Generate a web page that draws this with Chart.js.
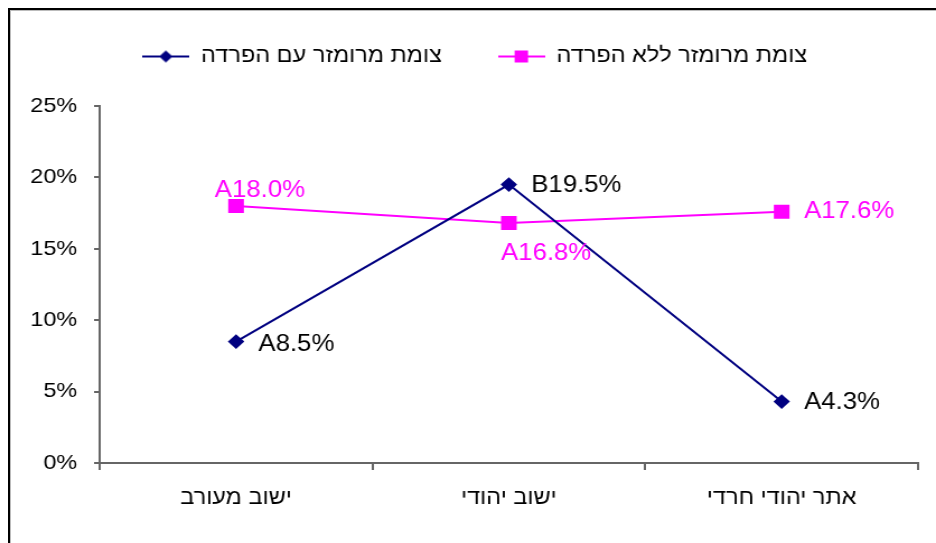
<!DOCTYPE html>
<html>
<head>
<meta charset="utf-8">
<script src="https://cdn.jsdelivr.net/npm/chart.js@4"></script>
<style>
  html, body { margin: 0; padding: 0; background: #fff; overflow: hidden; width: 936px; height: 543px; }
  #frame { position: absolute; left: 8px; top: 8px; width: 2000px; height: 2000px;
           border-top: 2px solid #000; border-left: 2px solid #000;
           box-shadow: inset 1px 1px 0 #bbb; z-index: 0; }
  #wrap { position: absolute; left: 0; top: 0; width: 836px; height: 543px;
          transform: scaleX(1.1196); transform-origin: 0 0; z-index: 1; }
</style>
</head>
<body>
<div id="frame"></div>
<div id="wrap"><canvas id="c" width="836" height="543"></canvas></div>
<script>
// ---- data ----
const categories = ['ישוב מעורב', 'ישוב יהודי', 'אתר יהודי חרדי'];
const seriesNames = ['צומת מרומזר עם הפרדה', 'צומת מרומזר ללא הפרדה'];
const withSeparation = [8.5, 19.5, 4.3];
const withoutSeparation = [18.0, 16.8, 17.6];
const withSeparationGroups = ['A', 'B', 'A'];
const withoutSeparationGroups = ['A', 'A', 'A'];
const yTickValues = [0, 5, 10, 15, 20, 25];

// ---- styling ----
const NAVY = '#000080';
const MAGENTA = '#FF00FF';
const AXIS = '#666666';
const FONT = '"Liberation Sans", Arial, sans-serif';

// label placement relative to each point (canvas units)
const labelPlacement = [
  [{dx: 20, dy: 3}, {dx: 20, dy: 1}, {dx: 20, dy: 1}],
  [{dx: -19, dy: -15}, {dx: -7, dy: 31}, {dx: 20, dy: 0}]
];
const labelColors = ['#000000', MAGENTA];
const groups = [withSeparationGroups, withoutSeparationGroups];
const LEGEND_HEIGHT = 105;
const LEGEND_SHIFT = { x: 14, y: -5 };

function legendIcon(color, shape) {
  const c = document.createElement('canvas');
  c.width = 42; c.height = 16;
  const g = c.getContext('2d');
  g.strokeStyle = color; g.lineWidth = 2;
  g.beginPath(); g.moveTo(0, 8); g.lineTo(42, 8); g.stroke();
  g.fillStyle = color;
  if (shape === 'diamond') {
    g.beginPath(); g.moveTo(21, 2); g.lineTo(27, 8); g.lineTo(21, 14); g.lineTo(15, 8); g.closePath(); g.fill();
  } else {
    g.fillRect(15, 2, 12, 12);
  }
  return c;
}
const legendIcons = [legendIcon(NAVY, 'diamond'), legendIcon(MAGENTA, 'square')];

const legendSizer = {
  id: 'legendSizer',
  beforeLayout(chart) {
    const lg = chart.legend;
    if (lg && !lg._sized) {
      const fit = lg.fit, draw = lg.draw;
      lg.fit = function () { fit.call(this); this.height = LEGEND_HEIGHT; };
      lg.draw = function () {
        const ctx = this.ctx;
        ctx.save(); ctx.translate(LEGEND_SHIFT.x, LEGEND_SHIFT.y);
        draw.call(this);
        ctx.restore();
      };
      lg._sized = true;
    }
  }
};

const dataLabelPlugin = {
  id: 'dataLabels',
  afterDatasetsDraw(chart) {
    const ctx = chart.ctx;
    ctx.save();
    ctx.font = '23px ' + FONT;
    ctx.textAlign = 'left';
    ctx.textBaseline = 'middle';
    chart.data.datasets.forEach((ds, di) => {
      const meta = chart.getDatasetMeta(di);
      meta.data.forEach((pt, i) => {
        const p = labelPlacement[di][i];
        ctx.fillStyle = labelColors[di];
        ctx.fillText(groups[di][i] + ds.data[i].toFixed(1) + '%', pt.x + p.dx, pt.y + p.dy);
      });
    });
    ctx.restore();
  }
};

new Chart(document.getElementById('c'), {
  type: 'line',
  data: {
    labels: categories,
    datasets: [
      {
        label: seriesNames[0], data: withSeparation,
        borderColor: NAVY, backgroundColor: NAVY, borderWidth: 2,
        pointStyle: 'rectRot', pointRadius: 6, pointHoverRadius: 6,
        tension: 0, fill: false
      },
      {
        label: seriesNames[1], data: withoutSeparation,
        borderColor: MAGENTA, backgroundColor: MAGENTA, borderWidth: 2,
        pointStyle: 'rect', pointRadius: 8.5, pointHoverRadius: 8.5,
        tension: 0, fill: false
      }
    ]
  },
  options: {
    responsive: false,
    animation: false,
    devicePixelRatio: 1,
    layout: { padding: { top: 1, left: 0, right: 16, bottom: 0 } },
    plugins: {
      tooltip: { enabled: false },
      legend: {
        position: 'top',
        labels: {
          usePointStyle: true,
          pointStyleWidth: 42,
          padding: 50,
          color: '#000',
          font: { family: FONT, size: 21 },
          generateLabels(chart) {
            const items = Chart.defaults.plugins.legend.labels.generateLabels(chart);
            items.forEach((it, i) => { it.pointStyle = legendIcons[i]; });
            return items;
          }
        }
      }
    },
    scales: {
      x: {
        type: 'category',
        offset: true,
        grid: { offset: true, drawOnChartArea: false, drawTicks: true, tickLength: 7, color: AXIS, lineWidth: 2 },
        border: { color: AXIS, width: 2 },
        ticks: { color: '#000', font: { family: FONT, size: 21 }, padding: 16, maxRotation: 0 },
        afterFit(s) { s.height = 80; }
      },
      y: {
        min: 0, max: 25,
        afterBuildTicks(s) { s.ticks = yTickValues.map(v => ({ value: v })); },
        grid: { drawOnChartArea: false, drawTicks: true, tickLength: 5, color: AXIS, lineWidth: 2 },
        border: { color: AXIS, width: 2 },
        ticks: { color: '#000', font: { family: FONT, size: 21 }, padding: 15, callback: v => v + '%' },
        afterFit(s) { s.width = 89; }
      }
    }
  },
  plugins: [legendSizer, dataLabelPlugin]
});
</script>
</body>
</html>
